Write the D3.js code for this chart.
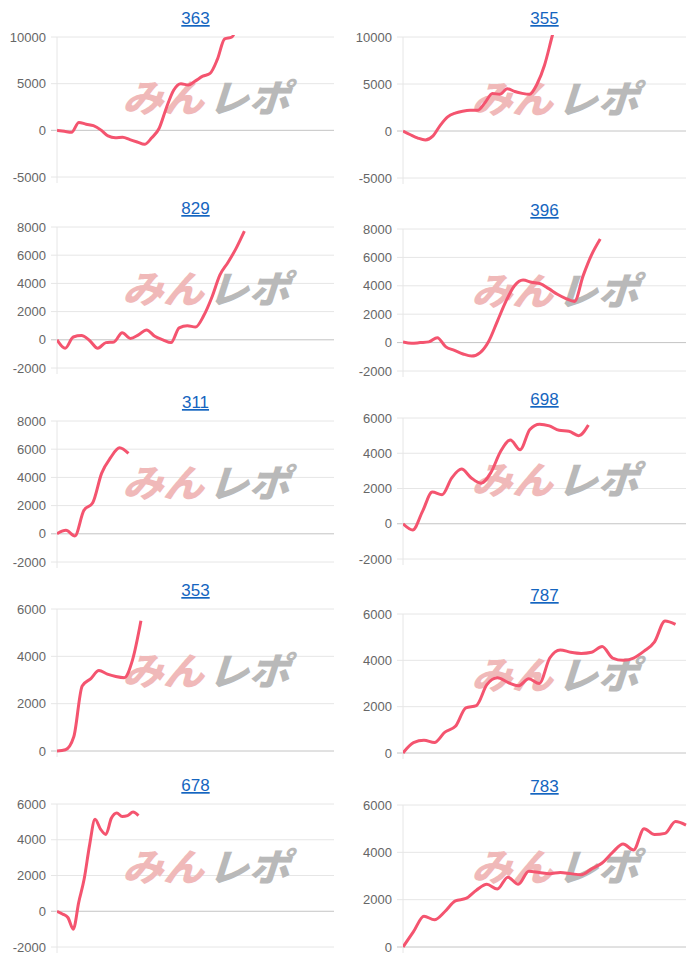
<!DOCTYPE html>
<html><head><meta charset="utf-8">
<script src="https://cdn.jsdelivr.net/npm/d3@7"></script>
<style>body{margin:0;background:#fff}</style>
</head><body>
<svg id="c" width="700" height="965"></svg>
<script>
const titles = ["363","355","829","396","311","698","353","787","678","783"];
const v363 = [0,-100,-200,850,650,500,50,-600,-800,-750,-1000,-1250,-1500,-800,200,2400,4300,5000,4850,5300,5800,6100,7600,9800,10000,12000];
const v355 = [0,-400,-750,-950,-550,600,1500,1900,2100,2200,2200,3000,4000,3900,4500,4200,4000,3900,5000,7000,10000,13000];
const v829 = [0,-600,200,300,-50,-600,-200,-150,500,100,350,700,250,0,-200,850,1000,900,1700,3000,4600,5500,6500,7700];
const v396 = [50,-50,0,50,350,-300,-550,-800,-950,-700,100,1500,2900,4000,4400,4250,4150,3800,3400,3100,2900,4700,6200,7300];
const v311 = [0,250,-150,1650,2200,4300,5400,6100,5700];
const v698 = [0,-350,700,1800,1650,2600,3100,2600,2300,2900,4100,4750,4200,5350,5650,5550,5300,5250,5000,5600];
const v353 = [0,50,600,2750,3050,3400,3250,3150,3100,3850,5500];
const v787 = [0,450,550,450,900,1150,1950,2050,2950,3250,3050,2900,3200,3000,4100,4450,4350,4300,4350,4600,4100,4000,4100,4400,4800,5700,5550];
const v678 = [0,-150,-350,-1000,500,1800,3700,5150,4600,4300,5200,5500,5300,5350,5550,5350];
const v783 = [0,650,1300,1150,1500,1950,2050,2400,2650,2450,2950,2650,3200,3150,3100,3150,3100,3050,3300,3550,4000,4350,4100,5000,4750,4800,5300,5150];
const series = [v363,v355,v829,v396,v311,v698,v353,v787,v678,v783];
const slots = [39,39,35,34,32,30,34,28,52,28];
const yMin = [-5000,-5000,-2000,-2000,-2000,-2000,0,0,-2000,0];
const yMax = [10000,10000,8000,8000,8000,6000,6000,6000,6000,6000];
const yStep = [5000,5000,2000,2000,2000,2000,2000,2000,2000,2000];

const colX = [[57,334],[403,686]];
const rowY = [[[37,177],[37,178]],[[227,368],[229,371]],[[421,562],[418,559]],[[609,751],[614,753]],[[804,947],[805,947]]];
const svg = d3.select("#c");
series.forEach((vals,i)=>{
  const col=i%2,row=Math.floor(i/2);
  const [x0,x1]=colX[col],[y0,y1]=rowY[row][col];
  const x=d3.scaleLinear().domain([0,slots[i]-1]).range([x0,x1]);
  const y=d3.scaleLinear().domain([yMin[i],yMax[i]]).range([y1,y0]);
  const g=svg.append("g");
  const ticks=d3.range(yMin[i],yMax[i]+1,yStep[i]);
  g.selectAll("line.grid").data(ticks).join("line")
    .attr("x1",x0-6).attr("x2",x1).attr("y1",d=>y(d)).attr("y2",d=>y(d))
    .attr("stroke",d=>d===0?"#c4c4c4":"#e6e6e6").attr("stroke-width",1);
  g.append("line").attr("x1",x0).attr("x2",x0).attr("y1",y0).attr("y2",y1+6).attr("stroke","#e6e6e6");
  g.selectAll("text.tk").data(ticks).join("text")
    .attr("x",x0-11).attr("y",d=>y(d)).attr("dy","0.35em").attr("text-anchor","end")
    .attr("font-family","Liberation Sans, Arial, sans-serif").attr("font-size",13).attr("fill","#666").text(d=>d);
  g.append("text").attr("x",(x0+x1)/2).attr("y",y0-13).attr("text-anchor","middle")
    .attr("font-family","Liberation Sans, Arial, sans-serif").attr("font-size",17).attr("fill","#1565c0")
    .attr("text-decoration","underline").text(titles[i]);
  const cx=(x0+x1)/2+10, cy=(y0+y1)/2+5;
  const wm=g.append("g").attr("transform",`translate(${cx},${cy}) skewX(-18) scale(1.02,0.95)`);
  wm.append("text").attr("x",-2).attr("y",0).attr("text-anchor","end").attr("font-family","Noto Sans CJK JP")
    .attr("font-weight",900).attr("font-size",40).attr("fill","#f0b9b9").text("みん");
  wm.append("text").attr("x",2).attr("y",0).attr("text-anchor","start").attr("font-family","Noto Sans CJK JP")
    .attr("font-weight",900).attr("font-size",40).attr("fill","#b9b9b9").text("レポ");
  const id="clip"+i;
  svg.append("clipPath").attr("id",id).append("rect").attr("x",x0).attr("y",y0-2).attr("width",x1-x0+2).attr("height",y1-y0+4);
  g.append("path").datum(vals).attr("clip-path",`url(#${id})`)
    .attr("d",d3.line().x((d,k)=>x(k)).y(d=>y(d)).curve(d3.curveMonotoneX))
    .attr("fill","none").attr("stroke","#f4546f").attr("stroke-width",3).attr("stroke-linejoin","round");
});
</script>
</body></html>
